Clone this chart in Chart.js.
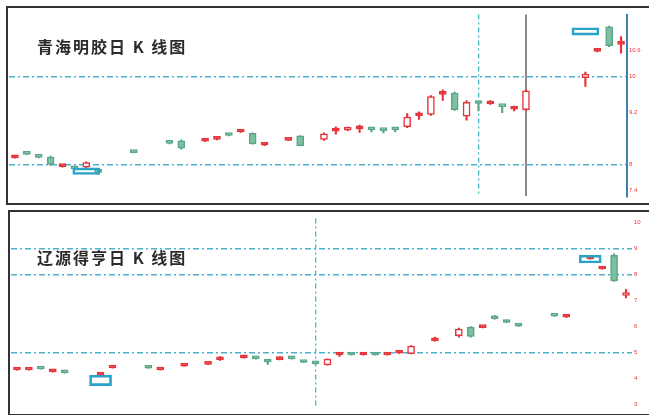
<!DOCTYPE html>
<html><head><meta charset="utf-8">
<script src="https://cdn.jsdelivr.net/npm/chart.js@4.4.0/dist/chart.umd.min.js"></script>
<style>
body{margin:0;width:649px;height:415px;background:#fff;position:relative;overflow:hidden;font-family:"Noto Sans CJK SC",sans-serif;}
.frame{position:absolute;border:2px solid #333;box-sizing:border-box;}
canvas{position:absolute;}
.title{position:absolute;font-size:16px;color:#2b2b2b;letter-spacing:2px;font-weight:700;white-space:nowrap;}
</style></head><body>
<div class="frame" style="left:6px;top:6px;width:660px;height:199px"></div>
<div class="frame" style="left:8px;top:210px;width:660px;height:206px"></div>
<canvas id="c1" width="636" height="193" style="left:9px;top:9px"></canvas>
<canvas id="c2" width="638" height="199" style="left:11px;top:213px"></canvas>
<div class="title" style="left:37px;top:34px">青海明胶日 K 线图</div>
<div class="title" style="left:37px;top:245px">辽源得亨日 K 线图</div>
<script>
// ---- 青海明胶 (top) ----
const topDays = Array.from({length: 52}, (_, i) => String(i + 1));
const topOpen  = [8.15,8.25,8.18,8.17,7.95,7.92,7.94,7.85,null,null,8.29,null,null,8.50,8.54,null,8.53,8.57,8.68,8.74,8.71,8.44,null,8.55,8.65,null,8.57,8.76,8.78,8.81,8.81,8.79,8.81,8.86,9.11,9.14,9.60,9.63,9.10,9.41,9.38,9.34,9.26,9.25,null,null,null,null,9.98,10.58,11.14,10.74];
const topClose = [8.18,8.23,8.16,8.00,7.97,7.90,8.04,7.82,null,null,8.27,null,null,8.48,8.37,null,8.55,8.59,8.66,8.76,8.47,8.46,null,8.57,8.43,null,8.70,8.78,8.84,8.83,8.79,8.77,8.79,9.08,9.13,9.55,9.62,9.25,9.42,9.39,9.44,9.32,9.28,9.68,null,null,null,null,10.06,10.61,10.71,10.77];
const topHigh  = [8.19,8.26,8.19,8.19,7.98,7.93,8.06,7.86,null,null,8.30,null,null,8.51,8.56,null,8.56,8.60,8.69,8.77,8.72,8.47,null,8.58,8.66,null,8.72,8.86,8.85,8.90,8.82,8.80,8.82,9.16,9.20,9.57,9.70,9.65,9.46,9.41,9.46,9.34,9.33,9.70,null,null,null,null,10.11,10.62,11.16,10.92];
const topLow   = [8.14,8.22,8.15,7.98,7.94,7.88,7.92,7.78,null,null,8.26,null,null,8.47,8.35,null,8.52,8.56,8.65,8.73,8.46,8.43,null,8.54,8.42,null,8.55,8.69,8.77,8.73,8.74,8.72,8.74,8.84,9.03,9.12,9.46,9.23,9.01,9.22,9.37,9.18,9.22,9.23,null,null,null,null,9.78,10.57,10.69,10.54];
const topMarkBoxes = [null,null,null,null,null,null,[7.77,7.92],null,null,null,null,null,null,null,null,null,null,null,null,null,null,null,null,null,null,null,null,null,null,null,null,null,null,null,null,null,null,null,null,null,null,null,null,null,null,null,null,null,[10.95,11.12],null,null,null];
const topTicks = [7.4, 8.0, 9.2, 10.0, 10.6];
const topGridLevels = [8.0, 10.0];

// ---- 辽源得亨 (bottom) ----
const botDays = Array.from({length: 52}, (_, i) => String(i + 1));
const botOpen  = [4.33,4.33,4.40,4.26,4.26,null,null,4.14,4.41,null,null,4.44,4.33,null,4.48,null,4.55,4.72,null,4.80,4.82,4.70,4.73,4.80,4.67,4.62,4.53,4.91,4.95,4.91,4.95,4.91,4.98,4.96,null,5.45,null,5.65,5.98,5.96,6.42,6.24,6.09,null,null,6.43,6.37,null,8.61,8.22,8.75,7.20];
const botClose = [4.36,4.36,4.37,4.29,4.22,null,null,4.17,4.44,null,null,4.40,4.36,null,4.51,null,4.58,4.76,null,4.84,4.76,4.64,4.77,4.76,4.62,4.57,4.75,4.95,4.91,4.95,4.91,4.94,5.02,5.25,null,5.49,null,5.91,5.62,6.00,6.30,6.16,6.02,null,null,6.40,6.40,null,8.66,8.26,7.76,7.30];
const botHigh  = [4.37,4.37,4.41,4.30,4.27,null,null,4.18,4.45,null,null,4.45,4.37,null,4.52,null,4.59,4.85,null,4.86,4.83,4.71,4.84,4.81,4.68,4.63,4.76,4.98,4.96,5.00,4.96,4.95,5.03,5.27,null,5.60,null,5.95,6.00,6.01,6.43,6.25,6.10,null,null,6.44,6.41,null,8.67,8.27,8.80,7.44];
const botLow   = [4.32,4.32,4.36,4.25,4.21,null,null,4.13,4.40,null,null,4.39,4.32,null,4.47,null,4.54,4.70,null,4.79,4.75,4.55,4.72,4.75,4.61,4.56,4.52,4.85,4.90,4.90,4.90,4.90,4.97,4.95,null,5.44,null,5.60,5.60,5.95,6.29,6.15,6.01,null,null,6.39,6.36,null,8.60,8.21,7.74,7.11];
const botMarkBoxes = [null,null,null,null,null,null,null,[3.73,4.13],null,null,null,null,null,null,null,null,null,null,null,null,null,null,null,null,null,null,null,null,null,null,null,null,null,null,null,null,null,null,null,null,null,null,null,null,null,null,null,null,[8.45,8.75],null,null,null];
const botTicks = [3, 4, 5, 6, 7, 8, 9, 10];
const botGridLevels = [5, 8, 9];

const RED = '#e5353b', GREEN = '#7cbfa2', GREEN_B = '#5aa686', CYAN = '#4fb2cc';

function makeChart(id, labels, o, c, h, l, boxes, ticks, levels, cfg) {
  const up = i => c[i] != null && c[i] >= o[i];
  const flat = i => c[i] != null && Math.abs(c[i] - o[i]) < 0.06;
  const bodies = labels.map((_, i) => o[i] == null ? null : [o[i], c[i]]);
  const wicks = labels.map((_, i) => h[i] == null ? null : [l[i], h[i]]);
  new Chart(document.getElementById(id), {
    type: 'bar',
    data: {
      labels,
      datasets: [
        { data: boxes, grouped: false, order: 0, barThickness: cfg.boxW,
          backgroundColor: 'rgba(0,0,0,0)', borderColor: '#2aa3c8', borderWidth: 2, borderSkipped: false },
        { data: bodies, grouped: false, order: 1, barThickness: 7, minBarLength: 3,
          backgroundColor: ctx => up(ctx.dataIndex) ? (flat(ctx.dataIndex) ? RED : '#fff') : GREEN,
          borderColor: ctx => up(ctx.dataIndex) ? RED : GREEN_B,
          borderWidth: 1.5, borderSkipped: false },
        { data: wicks, grouped: false, order: 2, barThickness: 1.5,
          backgroundColor: ctx => up(ctx.dataIndex) ? RED : GREEN_B }
      ]
    },
    options: {
      responsive: false, animation: false, devicePixelRatio: 1,
      layout: { padding: 0 },
      plugins: { legend: { display: false }, tooltip: { enabled: false } },
      scales: {
        x: {
          type: 'category',
          ticks: { display: false },
          border: { display: false, dash: ctx => ctx.index === cfg.vDash ? [5, 3, 2, 3] : [] },
          grid: {
            offset: false, drawTicks: false,
            color: ctx => ctx.index === cfg.vDash ? CYAN : (ctx.index === cfg.vGray ? '#8a8a8a' : 'rgba(0,0,0,0)'),
            lineWidth: ctx => ctx.index === cfg.vGray ? 2 : 1.3
          }
        },
        y: {
          position: 'right', min: cfg.min, max: cfg.max,
          afterBuildTicks: s => { s.ticks = ticks.map(v => ({ value: v })); },
          afterFit: s => { s.width = cfg.axisW; },
          ticks: { color: RED, font: { size: 6 }, padding: 2, callback: v => String(v) },
          border: { display: cfg.borderShow, color: '#3d7fae', width: 2, dash: [6, 3, 2, 3] },
          grid: {
            drawTicks: false,
            color: ctx => levels.includes(ctx.tick && ctx.tick.value) ? CYAN : 'rgba(0,0,0,0)',
            lineWidth: 1.4
          }
        }
      }
    }
  });
}

makeChart('c1', topDays, topOpen, topClose, topHigh, topLow, topMarkBoxes, topTicks, topGridLevels,
  { min: 7.27, max: 11.42, axisW: 18, vDash: 39, vGray: 43, borderShow: true, boxW: 27 });
makeChart('c2', botDays, botOpen, botClose, botHigh, botLow, botMarkBoxes, botTicks, botGridLevels,
  { min: 2.93, max: 10.16, axisW: 17, vDash: 25, vGray: -1, borderShow: false, boxW: 22 });
</script>
</body></html>
